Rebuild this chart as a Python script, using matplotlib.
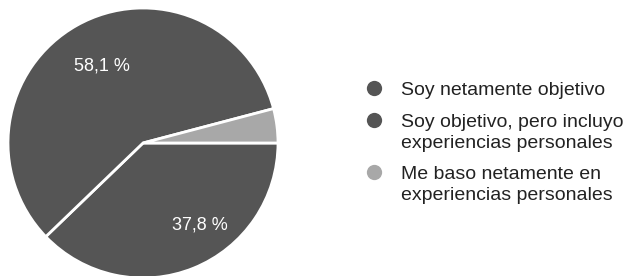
import numpy as np
import matplotlib
matplotlib.use("Agg")
import matplotlib.pyplot as plt

# datos de la encuesta
categorias = [
    "Soy netamente objetivo",
    "Soy objetivo, pero incluyo\nexperiencias personales",
    "Me baso netamente en\nexperiencias personales",
]
porcentajes = [37.8, 58.1, 4.1]
colores = ["#555555", "#555555", "#a8a8a8"]

plt.rcParams["font.family"] = ["Liberation Sans", "DejaVu Sans"]

fig = plt.figure(figsize=(6.29, 2.76), dpi=100)
W, H = 629, 276

# pastel: centro (143, 143) px, radio 135 px
cx, cy, r = 143, 143, 135
ax = fig.add_axes([(cx - r) / W, (H - cy - r) / H, 2 * r / W, 2 * r / H])

def fmt(p):
    return f"{p:.1f} %".replace(".", ",")

wedges, textos, autotextos = ax.pie(
    porcentajes, colors=colores, startangle=0, counterclock=False,
    radius=1, autopct=lambda p: fmt(p) if p > 10 else "",
    wedgeprops=dict(edgecolor="white", linewidth=2),
    textprops=dict(color="white", fontsize=13),
)
ax.set_xlim(-1, 1)
ax.set_ylim(-1, 1)
ax.set_aspect("equal")

# posición de las etiquetas (radio, ángulo)
etiquetas_pos = [(0.74, -55), (0.65, 118), None]
for t, pos in zip(autotextos, etiquetas_pos):
    if pos is None:
        continue
    rr, ang = pos
    t.set_position((rr * np.cos(np.radians(ang)), rr * np.sin(np.radians(ang))))
    t.set_ha("center")
    t.set_va("center")

# leyenda manual
lg = fig.add_axes([0, 0, 1, 1])
lg.set_xlim(0, W)
lg.set_ylim(H, 0)
lg.axis("off")
lg.patch.set_alpha(0)

y_base = [95, 127, 179]
for cat, col, yb in zip(categorias, colores, y_base):
    lg.plot(374, yb - 7.5, "o", ms=11, color=col, mec="none")
    for i, linea in enumerate(cat.split("\n")):
        lg.text(401, yb + i * 21, linea, fontsize=14, color="#222222",
                ha="left", va="baseline")

fig.savefig("out.png", dpi=100)
